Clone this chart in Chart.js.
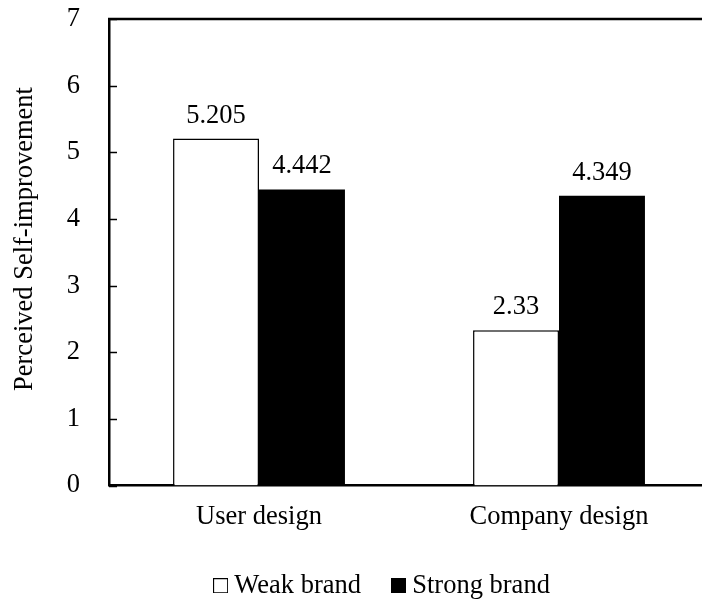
<!DOCTYPE html>
<html>
<head>
<meta charset="utf-8">
<script src="https://cdn.jsdelivr.net/npm/chart.js@4/dist/chart.umd.min.js"></script>
<style>
  html, body { margin: 0; padding: 0; background: #fff; overflow: hidden; }
  #wrap { width: 770px; height: 612px; }
</style>
</head>
<body>
<div id="wrap"><canvas id="my-chart" width="770" height="612"></canvas></div>
<script>
'use strict';

const categories = ['User design', 'Company design'];
const weakBrand = [5.205, 2.33];
const strongBrand = [4.442, 4.349];
const valueLabels = [['5.205', '2.33'], ['4.442', '4.349']];
const yTicks = [0, 1, 2, 3, 4, 5, 6, 7];

const FONT = '"Liberation Serif", "Times New Roman", serif';
const FONT_SIZE = 26.5;

// little square swatches for the legend
function makeSwatch(fill) {
  let c = document.createElement('canvas');
  c.width = 15;
  c.height = 15;
  let g = c.getContext('2d');
  g.fillStyle = fill;
  g.fillRect(0, 0, 15, 15);
  g.strokeStyle = '#000';
  g.lineWidth = 1;
  g.strokeRect(0.5, 0.5, 14, 14);
  return c;
}
const swatches = [makeSwatch('#fff'), makeSwatch('#000')];

// short inward tick marks on the y axis, plus the top frame line
const framePlugin = {
  id: 'frame',
  afterDraw(chart) {
    const ctx = chart.ctx;
    const area = chart.chartArea;
    const y = chart.scales.y;
    ctx.save();
    ctx.strokeStyle = '#000';
    ctx.lineWidth = 1.5;
    for (let i = 0; i < yTicks.length; i++) {
      let py = Math.round(y.getPixelForValue(yTicks[i])) + 0.5;
      ctx.beginPath();
      ctx.moveTo(area.left, py);
      ctx.lineTo(area.left + 8, py);
      ctx.stroke();
    }
    ctx.lineWidth = 2.5;
    ctx.beginPath();
    ctx.moveTo(area.left - 1, area.top);
    ctx.lineTo(chart.width, area.top);
    ctx.stroke();
    ctx.restore();
  }
};

// numbers above the bars
const labelPlugin = {
  id: 'barLabels',
  afterDatasetsDraw(chart) {
    const ctx = chart.ctx;
    ctx.save();
    ctx.fillStyle = '#000';
    ctx.font = FONT_SIZE + 'px ' + FONT;
    ctx.textAlign = 'center';
    ctx.textBaseline = 'alphabetic';
    chart.data.datasets.forEach(function (ds, di) {
      let meta = chart.getDatasetMeta(di);
      meta.data.forEach(function (bar, i) {
        ctx.fillText(valueLabels[di][i], bar.x, bar.y - 16);
      });
    });
    ctx.restore();
  }
};

const chartData = {
  type: 'bar',
  data: {
    labels: categories,
    datasets: [{
      label: 'Weak brand',
      data: weakBrand,
      backgroundColor: '#fff',
      borderColor: '#000',
      borderWidth: 1.5,
      borderSkipped: 'bottom'
    },
    {
      label: 'Strong brand',
      data: strongBrand,
      backgroundColor: '#000',
      borderColor: '#000',
      borderWidth: 0
    }]
  },
  options: {
    responsive: false,
    animation: false,
    layout: { padding: { top: 19, right: 0, left: 0, bottom: 3 } },
    datasets: {
      bar: { categoryPercentage: 0.573, barPercentage: 1 }
    },
    plugins: {
      tooltip: { enabled: false },
      legend: {
        position: 'bottom',
        labels: {
          color: '#000',
          font: { family: FONT, size: FONT_SIZE },
          usePointStyle: true,
          boxWidth: 1,
          boxHeight: 15,
          padding: 37,
          generateLabels(chart) {
            return chart.data.datasets.map(function (ds, i) {
              return {
                text: ds.label,
                pointStyle: swatches[i],
                fillStyle: ds.backgroundColor,
                strokeStyle: '#000',
                lineWidth: 1,
                fontColor: '#000',
                datasetIndex: i
              };
            });
          }
        }
      }
    },
    scales: {
      x: {
        grid: { display: false, drawTicks: false },
        border: { color: '#000', width: 2.5 },
        ticks: {
          color: '#000',
          font: { family: FONT, size: FONT_SIZE },
          padding: 16
        },
        afterFit(scale) {
          scale.height = 50;
          scale.paddingLeft = 0;
          scale.paddingRight = 0;
        }
      },
      y: {
        min: 0,
        max: 7,
        grid: { display: false, drawTicks: false },
        border: { color: '#000', width: 2.5 },
        ticks: {
          stepSize: 1,
          color: '#000',
          font: { family: FONT, size: FONT_SIZE },
          padding: 29
        },
        title: {
          display: true,
          // leading spaces nudge the title a bit above the middle, as in the original
          text: '\u00a0\u00a0\u00a0\u00a0Perceived Self-improvement',
          color: '#000',
          font: { family: FONT, size: FONT_SIZE },
          padding: { top: 9, bottom: 0 }
        },
        afterFit(scale) {
          scale.width = 109;
          scale.paddingTop = 0;
          scale.paddingBottom = 0;
        }
      },
      // empty right-hand axis, only reserves room so the plot runs off the page
      y2: {
        position: 'right',
        min: 0,
        max: 7,
        grid: { display: false, drawTicks: false },
        border: { display: false },
        ticks: { display: false },
        afterFit(scale) {
          scale.width = 61;
          scale.paddingTop = 0;
          scale.paddingBottom = 0;
        }
      }
    }
  },
  plugins: [framePlugin, labelPlugin]
};

const myChart = new Chart(document.getElementById('my-chart').getContext('2d'), chartData);
</script>
</body>
</html>
